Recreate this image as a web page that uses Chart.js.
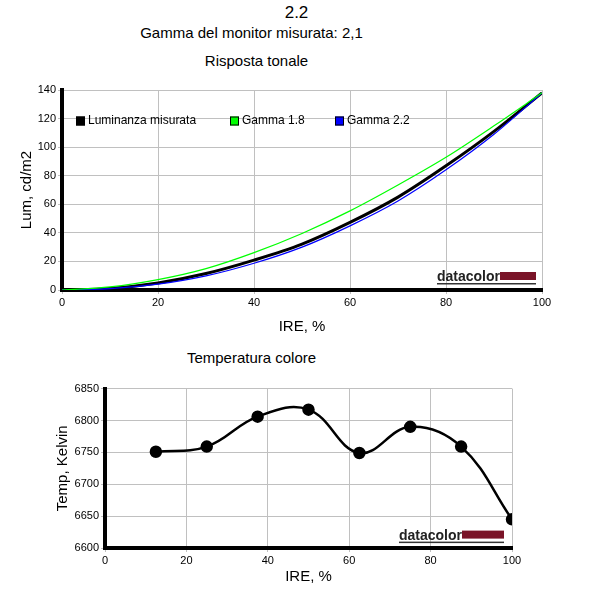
<!DOCTYPE html>
<html><head><meta charset="utf-8">
<script src="https://cdn.jsdelivr.net/npm/chart.js@4"></script>
<style>
body{margin:0;width:593px;height:593px;background:#fff;font-family:"Liberation Sans",Arial,sans-serif;position:relative;overflow:hidden}
.t{position:absolute;left:0;width:593px;text-align:center;color:#000}
canvas{position:absolute;left:0}
</style></head><body>
<div class="t" style="top:3px;font-size:17px">2.2</div>
<div class="t" style="top:24px;left:-45px;font-size:15px">Gamma del monitor misurata: 2,1</div>
<div class="t" style="top:52px;left:-40px;font-size:15px">Risposta tonale</div>
<div class="t" style="top:349px;left:-45px;font-size:15px">Temperatura colore</div>
<div style="position:absolute;left:0;top:80px;width:593px;height:260px"><canvas id="c1"></canvas></div>
<div style="position:absolute;left:0;top:380px;width:593px;height:210px"><canvas id="c2"></canvas></div>
<script>
'use strict';
var ire = [0,10,20,30,40,50,60,70,80,90,100];
var lumMeasured = [0,1.1,4.9,11.5,20.9,32.1,47.3,65,86.9,111,138];
var gamma18 = [0,2.2,7.3,15,26.2,39.6,55.4,73.5,92.9,114.9,138];
var gamma22 = [0,0.9,4.1,9.9,18.7,30,44.9,62.3,84.1,109,138];
var tempIre = [12.5,25,37.5,50,62.5,75,87.5,100];
var tempK = [6751,6759,6806,6817,6749,6790,6759,6645];
var legendItems = [['Luminanza misurata','#000'],['Gamma 1.8','#00ff00'],['Gamma 2.2','#0000ff']];

Chart.defaults.font.family = '"Liberation Sans", Arial, sans-serif';
Chart.defaults.color = '#000';

function pts(xs, ys){ return xs.map(function(x,i){ return {x:x, y:ys[i]}; }); }

function logo(ctx, area, rx, ry, w){
   ctx.save();
   ctx.font = 'bold 14px "Liberation Sans", Arial';
   ctx.fillStyle = '#222';
   ctx.textBaseline = 'alphabetic';
   var tw = ctx.measureText('datacolor').width;
   var x0 = rx - w - tw;
   ctx.fillText('datacolor', x0, ry);
   ctx.fillStyle = '#7a1428';
   ctx.fillRect(rx - w, ry - 9, w, 8);
   ctx.fillStyle = '#333';
   ctx.fillRect(x0, ry + 2, tw + w, 1.5);
   ctx.restore();
}

var deco1 = {
   id:'deco1',
   afterDatasetsDraw: function(chart){
      var ctx = chart.ctx, a = chart.chartArea;
      ctx.save();
      ctx.font = '12px "Liberation Sans", Arial';
      ctx.textBaseline = 'middle';
      var xs = [a.left+14, a.left+168, a.left+273], y = a.top+31;
      legendItems.forEach(function(it,i){
         ctx.fillStyle = it[1];
         ctx.fillRect(xs[i], y-4.5, 9, 9);
         ctx.strokeStyle = '#000'; ctx.lineWidth = 1;
         ctx.strokeRect(xs[i]+0.5, y-4, 8, 8);
         ctx.fillStyle = '#000';
         ctx.fillText(it[0], xs[i]+12, y);
      });
      ctx.restore();
      logo(ctx, a, a.right-6, a.top+191, 36);
   }
};
var deco2 = {
   id:'deco2',
   afterDatasetsDraw: function(chart){
      logo(chart.ctx, chart.chartArea, chart.chartArea.right-8, chart.chartArea.top+151, 42);
   }
};

function axes(xmin,xmax,ymin,ymax,ystep,ytitle,yw,xh){
   return {
      x:{type:'linear',min:xmin,max:xmax,
         ticks:{stepSize:20,font:{size:11},padding:2,maxRotation:0},
         grid:{color:'#c0c0c0',drawTicks:true,tickLength:4},
         border:{color:'#000',width:4},
         title:{display:true,text:'IRE, %',font:{size:15},padding:{top:6}},
         afterFit:function(s){ s.height = xh; }},
      y:{min:ymin,max:ymax,
         ticks:{stepSize:ystep,font:{size:11},padding:2,callback:function(v){ return String(v); }},
         grid:{color:'#c0c0c0',tickLength:4},
         border:{color:'#000',width:4},
         title:{display:true,text:ytitle,font:{size:15},padding:{bottom:2}},
         afterFit:function(s){ s.width = yw; }}
   };
}

new Chart(document.getElementById('c1'), {
   type:'line',
   data:{datasets:[
      {data:pts(ire,gamma18),borderColor:'#00ff00',borderWidth:1.2,pointRadius:0,cubicInterpolationMode:'monotone'},
      {data:pts(ire,gamma22),borderColor:'#0000ff',borderWidth:1.2,pointRadius:0,cubicInterpolationMode:'monotone'},
      {data:pts(ire,lumMeasured),borderColor:'#000',borderWidth:3,pointRadius:0,cubicInterpolationMode:'monotone'}
   ]},
   options:{responsive:true,maintainAspectRatio:false,animation:false,
      layout:{padding:{top:10,right:51,left:14,bottom:0}},
      plugins:{legend:{display:false},tooltip:{enabled:false}},
      scales:axes(0,100,0,140,20,'Lum, cd/m2',48,50)},
   plugins:[deco1]
});

new Chart(document.getElementById('c2'), {
   type:'line',
   data:{datasets:[
      {data:pts(tempIre,tempK),borderColor:'#000',borderWidth:2.5,tension:0.4,
       pointRadius:5,pointBackgroundColor:'#000',pointBorderColor:'#000'}
   ]},
   options:{responsive:true,maintainAspectRatio:false,animation:false,
      layout:{padding:{top:8,right:81,left:50,bottom:0}},
      plugins:{legend:{display:false},tooltip:{enabled:false}},
      scales:axes(0,100,6600,6850,50,'Temp, Kelvin',55,42)},
   plugins:[deco2]
});
</script>
</body></html>
